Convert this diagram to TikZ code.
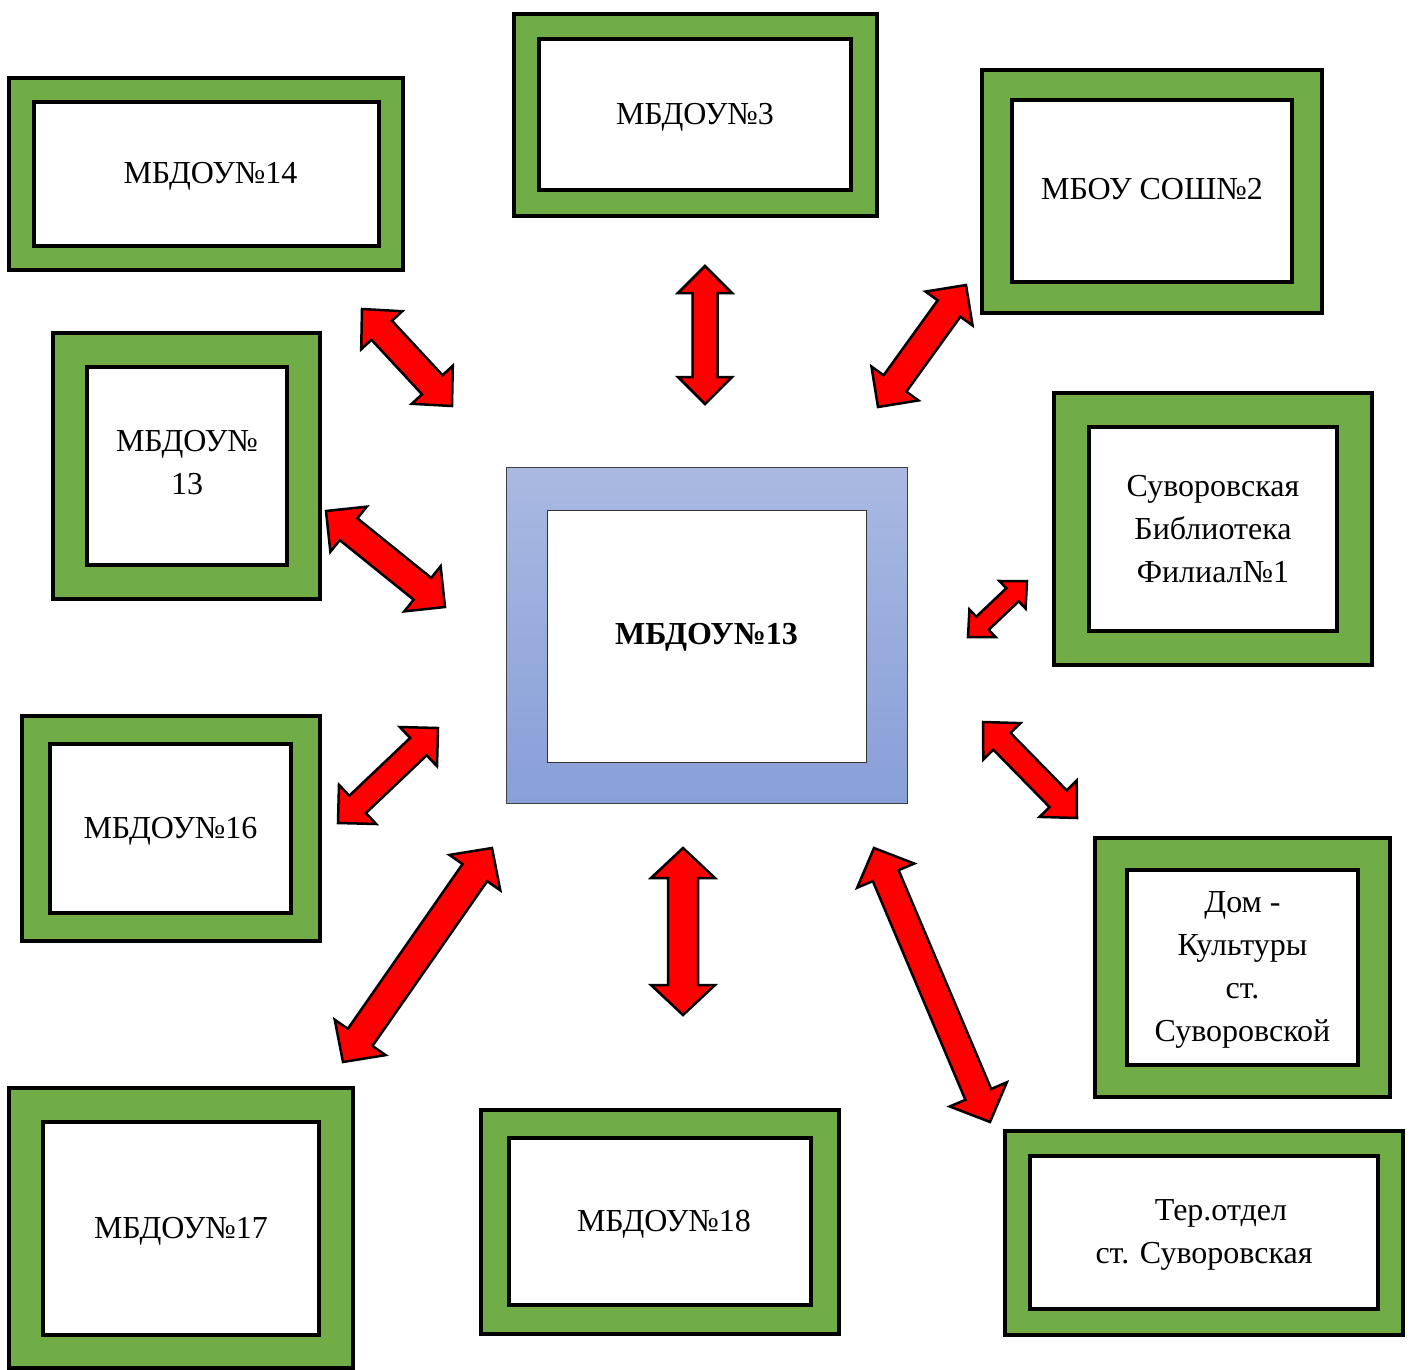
\documentclass[tikz,border=0pt]{standalone}
\usepackage{fontspec}
\setmainfont{Liberation Serif}
\usetikzlibrary{calc}
\definecolor{boxgreen}{HTML}{70AD47}
\definecolor{blueTop}{HTML}{A9B9E1}
\definecolor{blueBot}{HTML}{889FD8}
\tikzset{
  greenframe/.style={draw=black, line width=3.5pt, fill=boxgreen},
  whiteframe/.style={draw=black, line width=3.5pt, fill=white},
  boxlabel/.style={align=center, font=\fontsize{32}{43}\selectfont, inner sep=0pt},
  redarrow/.style={draw=black, line width=2.5pt, fill=red, line join=miter},
}
% [label options], name, outer corner 1, outer corner 2, inner corner 1, inner corner 2, text
\newcommand{\gbox}[7][]{%
  \draw[greenframe] #3 rectangle #4;
  \draw[whiteframe] #5 rectangle #6;
  \node[boxlabel,#1] (#2) at ($#5!0.5!#6$) {#7};
}
% start coord, end coord, shaft half width, head half width, head length
\newcommand{\dblarrow}[5]{%
  \path[redarrow] let \p1=(#1), \p2=(#2), \n1={atan2(\y2-\y1,\x2-\x1)} in
    (\p1)
    -- ($(\p1)+(\n1:#5)+(\n1+90:#4)$)
    -- ($(\p1)+(\n1:#5)+(\n1+90:#3)$)
    -- ($(\p2)+(\n1+180:#5)+(\n1+90:#3)$)
    -- ($(\p2)+(\n1+180:#5)+(\n1+90:#4)$)
    -- (\p2)
    -- ($(\p2)+(\n1+180:#5)+(\n1-90:#4)$)
    -- ($(\p2)+(\n1+180:#5)+(\n1-90:#3)$)
    -- ($(\p1)+(\n1:#5)+(\n1-90:#3)$)
    -- ($(\p1)+(\n1:#5)+(\n1-90:#4)$)
    -- cycle;
}
\begin{document}
\begin{tikzpicture}[x=1pt, y=-1pt]
\useasboundingbox (0,0) rectangle (1411,1369);
\fill[white] (0,0) rectangle (1411,1369);

% central box
\shade[top color=blueTop, bottom color=blueBot, draw=black!75, line width=1pt] (506,467) rectangle (907,803);
\draw[fill=white, draw=black!80, line width=1pt] (547,510) rectangle (866,762);
\node[boxlabel, font={\fontsize{32}{43}\selectfont\bfseries}, yshift=-3pt] (center) at (706.5,634) {МБДОУ№13};

% surrounding boxes
\gbox[yshift=-2.5pt, xshift=4pt]{b14}{(9,78)}{(403,270)}{(34,102)}{(379,246)}{МБДОУ№14}
\gbox[yshift=-3pt]{b3}{(514,14)}{(877,216)}{(539,39)}{(851,190)}{МБДОУ№3}
\gbox[yshift=2pt]{sosh2}{(982,70)}{(1322,313)}{(1012,100)}{(1292,282)}{МБОУ СОШ№2}
\gbox{lib}{(1054,393)}{(1372,665)}{(1089,427)}{(1337,631)}{Суворовская\\Библиотека\\Филиал№1}
\gbox[yshift=3.5pt]{b13}{(53,333)}{(320,599)}{(87,367)}{(287,565)}{МБДОУ№\\13}
\gbox[yshift=-2.5pt]{b16}{(22,716)}{(320,941)}{(50,744)}{(291,913)}{МБДОУ№16}
\gbox[yshift=-3pt]{b17}{(9,1088)}{(353,1368)}{(43,1122)}{(319,1335)}{МБДОУ№17}
\gbox[yshift=-3pt, xshift=4pt]{b18}{(481,1110)}{(839,1334)}{(509,1138)}{(811,1305)}{МБДОУ№18}
\gbox[yshift=-2pt]{dk}{(1095,838)}{(1390,1097)}{(1127,870)}{(1358,1065)}{Дом -\\Культуры\\ст.\\Суворовской}
\gbox[yshift=-2pt]{ter}{(1005,1131)}{(1403,1335)}{(1030,1156)}{(1378,1309)}{\hspace*{34pt}Тер.отдел\\ст. Суворовская}

% arrow end points
\coordinate (a1s) at (362,309);  \coordinate (a1e) at (452,406);
\coordinate (a2s) at (705,266);  \coordinate (a2e) at (705,404);
\coordinate (a3s) at (966,285);  \coordinate (a3e) at (878,407);
\coordinate (a4s) at (1027,581); \coordinate (a4e) at (968,637);
\coordinate (a5s) at (983,722);  \coordinate (a5e) at (1077,818);
\coordinate (a6s) at (874,848);  \coordinate (a6e) at (990,1122);
\coordinate (a7s) at (683,848);  \coordinate (a7e) at (683,1015);
\coordinate (a8s) at (492,848);  \coordinate (a8e) at (343,1062);
\coordinate (a9s) at (438,728);  \coordinate (a9e) at (338,823);
\coordinate (a10s) at (326,511); \coordinate (a10e) at (445,607);

\dblarrow{a1s}{a1e}{14pt}{28pt}{29pt}
\dblarrow{a2s}{a2e}{12.5pt}{27pt}{27pt}
\dblarrow{a3s}{a3e}{14pt}{29pt}{29pt}
\dblarrow{a4s}{a4e}{9pt}{19pt}{20pt}
\dblarrow{a5s}{a5e}{12pt}{26pt}{27pt}
\dblarrow{a6s}{a6e}{14pt}{31pt}{30pt}
\dblarrow{a7s}{a7e}{15pt}{32pt}{30pt}
\dblarrow{a8s}{a8e}{15pt}{31pt}{30pt}
\dblarrow{a9s}{a9e}{12pt}{27pt}{27pt}
\dblarrow{a10s}{a10e}{14pt}{29pt}{29pt}
\end{tikzpicture}
\end{document}
